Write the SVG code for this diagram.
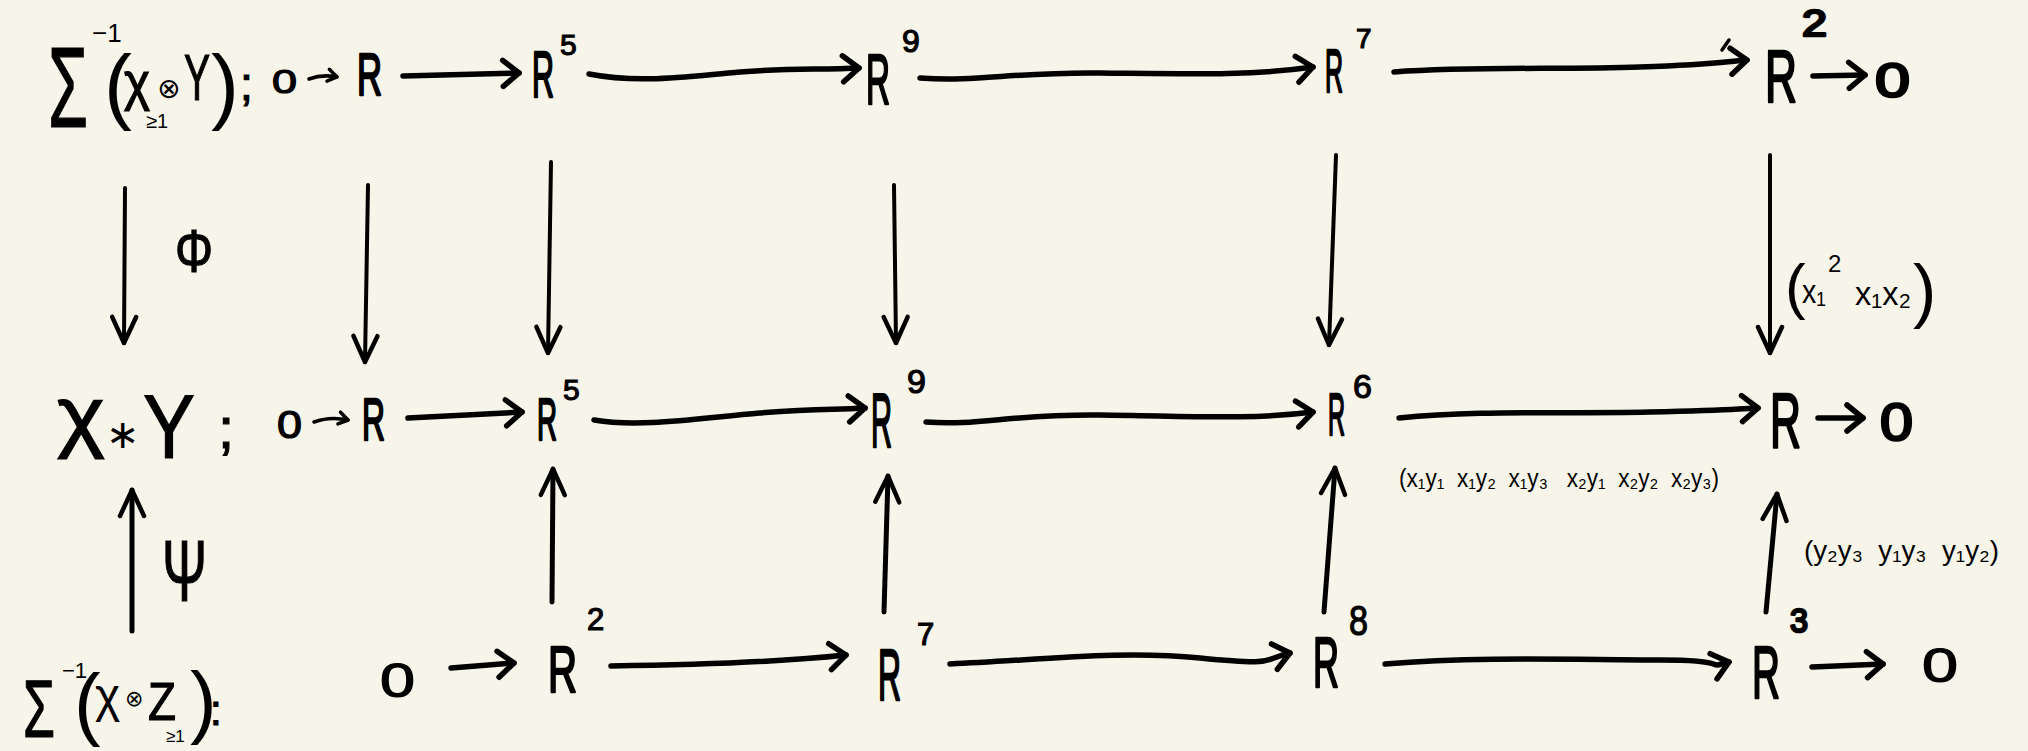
<svg xmlns="http://www.w3.org/2000/svg" width="2028" height="751" viewBox="0 0 2028 751">
<defs>
<style>
.t{font-family:"Liberation Sans","DejaVu Sans",sans-serif;fill:#000}
.r{font-family:"Liberation Sans","DejaVu Sans",sans-serif;fill:#000;stroke:#000;stroke-width:2.5;stroke-linejoin:round}
.s{font-family:"Liberation Sans","DejaVu Sans",sans-serif;fill:#000;stroke:#000;stroke-width:1.2}
.lab{font-family:"Liberation Sans","DejaVu Sans",sans-serif;fill:#000;white-space:pre}
.c{fill:none;stroke:#000;stroke-linecap:round;stroke-linejoin:round}
.h{stroke-width:5.5}
.v{stroke-width:4}
.u{stroke-width:5}
.sm{stroke-width:3.5}
</style>
<marker id="ah" markerUnits="userSpaceOnUse" viewBox="-22 -18 26 36" markerWidth="26" markerHeight="36" refX="0" refY="0" orient="auto" overflow="visible">
<path d="M -16 -13 L 0 0 L -16 13" fill="none" stroke="#000" stroke-width="5.5" stroke-linecap="round" stroke-linejoin="round"/>
</marker>
<marker id="av" markerUnits="userSpaceOnUse" viewBox="-30 -16 34 32" markerWidth="34" markerHeight="32" refX="0" refY="0" orient="auto" overflow="visible">
<path d="M -26 -12 L 0 0 L -26 12" fill="none" stroke="#000" stroke-width="4.5" stroke-linecap="round" stroke-linejoin="round"/>
</marker>
<marker id="as" markerUnits="userSpaceOnUse" viewBox="-12 -10 14 20" markerWidth="14" markerHeight="20" refX="0" refY="0" orient="auto" overflow="visible">
<path d="M -9 -6 L 0 0 L -9 6" fill="none" stroke="#000" stroke-width="3.5" stroke-linecap="round" stroke-linejoin="round"/>
</marker>
</defs>
<rect x="0" y="0" width="2028" height="751" fill="#f7f5e9"/>

<g id="connectors">
<path class="c sm" d="M 309 79 Q 322 74 337 77" marker-end="url(#as)"/>
<path class="c h" d="M 403 76 L 519 73" marker-end="url(#ah)"/>
<path class="c h" d="M 589 74 C 640 84 690 76 740 72 S 820 70 859 68" marker-end="url(#ah)"/>
<path class="c h" d="M 920 78 C 980 82 1010 72 1100 73 S 1250 76 1313 67" marker-end="url(#ah)"/>
<path class="c h" d="M 1394 72 C 1480 66 1560 70 1640 67 S 1720 62 1747 60" marker-end="url(#ah)"/>
<path class="c sm" d="M 1722 50 L 1729 40"/>
<path class="c h" d="M 1813 76 L 1865 75" marker-end="url(#ah)"/>
<path class="c sm" d="M 314 422 Q 330 416 348 420" marker-end="url(#as)"/>
<path class="c h" d="M 408 418 L 522 412" marker-end="url(#ah)"/>
<path class="c h" d="M 594 420 C 640 428 700 418 760 413 S 830 410 865 408" marker-end="url(#ah)"/>
<path class="c h" d="M 926 422 C 980 426 1010 414 1100 415 S 1250 420 1313 412" marker-end="url(#ah)"/>
<path class="c h" d="M 1399 418 C 1480 410 1560 414 1650 412 S 1730 409 1758 408" marker-end="url(#ah)"/>
<path class="c h" d="M 1818 418 L 1863 418" marker-end="url(#ah)"/>
<path class="c h" d="M 451 668 L 514 663" marker-end="url(#ah)"/>
<path class="c h" d="M 611 666 C 700 665 780 662 846 655" marker-end="url(#ah)"/>
<path class="c h" d="M 950 664 C 1040 660 1120 650 1200 658 S 1260 660 1290 653" marker-end="url(#ah)"/>
<path class="c h" d="M 1385 664 C 1480 656 1580 660 1660 660 S 1700 670 1729 662" marker-end="url(#ah)"/>
<path class="c h" d="M 1812 667 L 1883 664" marker-end="url(#ah)"/>
<path class="c v" d="M 125 188 L 124 343" marker-end="url(#av)"/>
<path class="c v" d="M 368 185 L 365 362" marker-end="url(#av)"/>
<path class="c v" d="M 551 162 L 548 353" marker-end="url(#av)"/>
<path class="c v" d="M 894 185 L 896 343" marker-end="url(#av)"/>
<path class="c v" d="M 1336 155 L 1329 345" marker-end="url(#av)"/>
<path class="c v" d="M 1770 155 L 1770 353" marker-end="url(#av)"/>
<path class="c u" d="M 132 631 L 132 490" marker-end="url(#av)"/>
<path class="c u" d="M 552 602 L 553 469" marker-end="url(#av)"/>
<path class="c u" d="M 884 612 L 888 476" marker-end="url(#av)"/>
<path class="c u" d="M 1324 612 L 1335 468" marker-end="url(#av)"/>
<path class="c u" d="M 1766 612 L 1777 494" marker-end="url(#av)"/>
</g>

<g id="top-label">
<text class="s" x="48" y="127" font-size="115" textLength="40" lengthAdjust="spacingAndGlyphs">Σ</text>
<text class="t" x="92" y="42" font-size="26">−1</text>
<text class="t" x="104" y="114" font-size="84">(</text>
<text class="s" x="124" y="100" font-size="54" textLength="26" lengthAdjust="spacingAndGlyphs">χ</text>
<text class="t" x="146" y="128" font-size="20">≥1</text>
<text class="t" x="157" y="98" font-size="28">⊗</text>
<text class="s" x="184" y="100" font-size="64" textLength="26" lengthAdjust="spacingAndGlyphs">Y</text>
<text class="t" x="211" y="114" font-size="84">)</text>
<text class="s" x="240" y="100" font-size="46">;</text>
</g>
<g id="top-0"><text class="s" x="272" y="93" font-size="34" textLength="25" lengthAdjust="spacingAndGlyphs">0</text></g>
<g id="top-R"><text class="r" x="357" y="95" font-size="60" textLength="25" lengthAdjust="spacingAndGlyphs">R</text></g>
<g id="top-R5"><text class="r" x="532" y="97" font-size="64" textLength="22" lengthAdjust="spacingAndGlyphs">R</text><text class="s" x="560" y="55" font-size="30">5</text></g>
<g id="top-R9"><text class="r" x="866" y="104" font-size="70" textLength="24" lengthAdjust="spacingAndGlyphs">R</text><text class="s" x="902" y="52" font-size="32">9</text></g>
<g id="top-R7"><text class="r" x="1325" y="92" font-size="62" textLength="18" lengthAdjust="spacingAndGlyphs">R</text><text class="s" x="1356" y="48" font-size="28">7</text></g>
<g id="top-R2"><text class="r" x="1765" y="102" font-size="74" textLength="32" lengthAdjust="spacingAndGlyphs">R</text><text class="r" x="1802" y="36" font-size="36" textLength="25" lengthAdjust="spacingAndGlyphs">2</text></g>
<g id="top-0end"><text class="r" x="1875" y="97" font-size="48" textLength="35" lengthAdjust="spacingAndGlyphs">0</text></g>

<g id="mid-label">
<text class="s" x="57" y="442" font-size="80" textLength="48" lengthAdjust="spacingAndGlyphs">χ</text>
<text class="t" x="106" y="448" font-size="40">∗</text>
<text class="s" x="143" y="458" font-size="90" textLength="52" lengthAdjust="spacingAndGlyphs">Y</text>
<text class="s" x="218" y="448" font-size="58">;</text>
</g>
<g id="mid-0"><text class="s" x="277" y="438" font-size="38" textLength="25" lengthAdjust="spacingAndGlyphs">0</text></g>
<g id="mid-R"><text class="r" x="362" y="440" font-size="60" textLength="23" lengthAdjust="spacingAndGlyphs">R</text></g>
<g id="mid-R5"><text class="r" x="537" y="440" font-size="60" textLength="20" lengthAdjust="spacingAndGlyphs">R</text><text class="s" x="563" y="400" font-size="30">5</text></g>
<g id="mid-R9"><text class="r" x="871" y="447" font-size="76" textLength="21" lengthAdjust="spacingAndGlyphs">R</text><text class="s" x="907" y="393" font-size="34">9</text></g>
<g id="mid-R6"><text class="r" x="1328" y="435" font-size="60" textLength="17" lengthAdjust="spacingAndGlyphs">R</text><text class="s" x="1353" y="398" font-size="34">6</text></g>
<g id="mid-Rend"><text class="r" x="1770" y="447" font-size="78" textLength="31" lengthAdjust="spacingAndGlyphs">R</text></g>
<g id="mid-0end"><text class="r" x="1880" y="440" font-size="52" textLength="33" lengthAdjust="spacingAndGlyphs">0</text></g>

<g id="bot-label">
<text class="s" x="23" y="737" font-size="82" textLength="32" lengthAdjust="spacingAndGlyphs">Σ</text>
<text class="t" x="62" y="678" font-size="22">−1</text>
<text class="t" x="74" y="730" font-size="80">(</text>
<text class="t" x="95" y="712" font-size="48">χ</text>
<text class="t" x="125" y="706" font-size="22">⊗</text>
<text class="s" x="148" y="720" font-size="54" textLength="28" lengthAdjust="spacingAndGlyphs">Z</text>
<text class="t" x="166" y="742" font-size="17">≥1</text>
<text class="t" x="190" y="728" font-size="80">)</text>
<text class="s" x="210" y="725" font-size="42">:</text>
</g>
<g id="bot-0"><text class="s" x="380" y="697" font-size="48" textLength="35" lengthAdjust="spacingAndGlyphs">0</text></g>
<g id="bot-R2"><text class="r" x="548" y="692" font-size="64" textLength="29" lengthAdjust="spacingAndGlyphs">R</text><text class="s" x="587" y="630" font-size="31">2</text></g>
<g id="bot-R7"><text class="r" x="878" y="700" font-size="72" textLength="23" lengthAdjust="spacingAndGlyphs">R</text><text class="s" x="917" y="645" font-size="31">7</text></g>
<g id="bot-R8"><text class="r" x="1313" y="687" font-size="70" textLength="26" lengthAdjust="spacingAndGlyphs">R</text><text class="s" x="1349" y="635" font-size="42" textLength="19" lengthAdjust="spacingAndGlyphs">8</text></g>
<g id="bot-R3"><text class="r" x="1752" y="698" font-size="74" textLength="28" lengthAdjust="spacingAndGlyphs">R</text><text class="r" x="1790" y="632" font-size="34" textLength="18" lengthAdjust="spacingAndGlyphs">3</text></g>
<g id="bot-0end"><text class="s" x="1922" y="682" font-size="48" textLength="36" lengthAdjust="spacingAndGlyphs">0</text></g>

<g id="label-phi"><text class="s" x="175" y="272" font-size="62" textLength="38" lengthAdjust="spacingAndGlyphs">Φ</text></g>
<g id="label-psi"><text class="s" x="162" y="601" font-size="88" textLength="45" lengthAdjust="spacingAndGlyphs">Ψ</text></g>
<g id="label-x">
<text class="t" x="1785" y="307" font-size="62">(</text>
<text class="lab" x="1802" y="303" font-size="34" textLength="24" lengthAdjust="spacingAndGlyphs">x₁</text>
<text class="lab" x="1828" y="272" font-size="24">2</text>
<text class="lab" x="1855" y="305" font-size="34" textLength="56" lengthAdjust="spacingAndGlyphs">x₁x₂</text>
<text class="t" x="1913" y="314" font-size="70">)</text>
</g>
<g id="label-xy"><text class="lab" xml:space="preserve" x="1399" y="487" font-size="26" textLength="320" lengthAdjust="spacingAndGlyphs">(x₁y₁  x₁y₂  x₁y₃   x₂y₁  x₂y₂  x₂y₃)</text></g>
<g id="label-y"><text class="lab" xml:space="preserve" x="1804" y="560" font-size="28" textLength="195" lengthAdjust="spacingAndGlyphs">(y₂y₃  y₁y₃  y₁y₂)</text></g>
</svg>
